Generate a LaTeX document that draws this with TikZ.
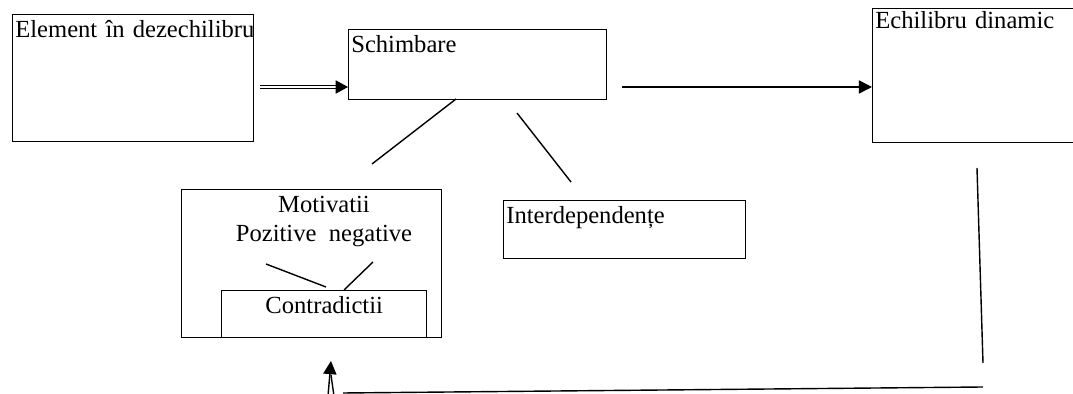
\documentclass[tikz,border=0pt]{standalone}
\usepackage{fontspec}
\setmainfont{Liberation Serif}
\usetikzlibrary{arrows.meta}

\begin{document}
\begin{tikzpicture}[
    x=0.02cm, y=-0.02cm,
    every node/.style={font=\fontsize{14}{16.5}\selectfont},
    box/.style={rectangle, draw, line width=0.8pt, inner sep=1.5pt, anchor=north west, align=left, text height=11.5pt},
    link/.style={line width=0.8pt},
    arrow/.style={line width=0.8pt, -{Triangle[length=7.5pt, width=7.5pt]}},
    dblarrow/.style={double, double distance=1.2pt, line width=0.6pt, -{Triangle[length=7pt, width=7.5pt]}}
]
    \useasboundingbox (0,0) rectangle (1073,394);

    % Boxes
    \node[box, text width=134.1pt, text depth=57.8pt] (elem) at (12,14) {\mbox{Element în dezechilibru}};
    \node[box, text width=143.8pt, text depth=25.3pt] (schimb) at (348,29) {Schimbare};
    \node[box, text width=121pt, text height=10pt, text depth=63.3pt] (echil) at (872,8) {\mbox{Echilibru dinamic}};
    \node[box, text width=134.7pt, text depth=18.5pt] (interd) at (503,200) {Interdependențe};
    \node[box, minimum width=148pt, minimum height=84.2pt] (motiv) at (181,189) {};
    \node[anchor=north, align=center, inner sep=0pt] (motivtext) at (324,196) {Motivatii\\Pozitive~~negative};
    \node[box, align=center, text width=113.7pt, text depth=12.2pt] (contr) at (221,290) {Contradictii};

    % Arrows between the top boxes
    \coordinate (dblstart) at (260,87);
    \coordinate (arrstart) at (622,87);
    \draw[dblarrow] (dblstart) -- (schimb.west |- dblstart);
    \draw[arrow] (arrstart) -- (echil.west |- arrstart);

    % Lines under Schimbare
    \coordinate (s1) at (456,99);
    \coordinate (s1end) at (372,164);
    \coordinate (s2) at (517,113);
    \coordinate (s2end) at (571,182);
    \draw[link] (s1) -- (s1end);
    \draw[link] (s2) -- (s2end);

    % Lines inside Motivatii
    \coordinate (m1) at (266,264);
    \coordinate (m1end) at (326,287);
    \coordinate (m2) at (373,262);
    \coordinate (m2end) at (344,290);
    \draw[link] (m1) -- (m1end);
    \draw[link] (m2) -- (m2end);

    % Feedback from Echilibru dinamic
    \coordinate (r1) at (977,168);
    \coordinate (r2) at (983,363);
    \coordinate (b1) at (983,387);
    \coordinate (b2) at (343,393);
    \coordinate (up1) at (328,396);
    \coordinate (up2) at (334,396);
    \coordinate (uptip) at (331,361);
    \draw[link] (r1) -- (r2);
    \draw[link] (b1) -- (b2);
    \draw[arrow] (up1) -- (uptip);
    \draw[link] (up2) -- (331,375);
\end{tikzpicture}
\end{document}
